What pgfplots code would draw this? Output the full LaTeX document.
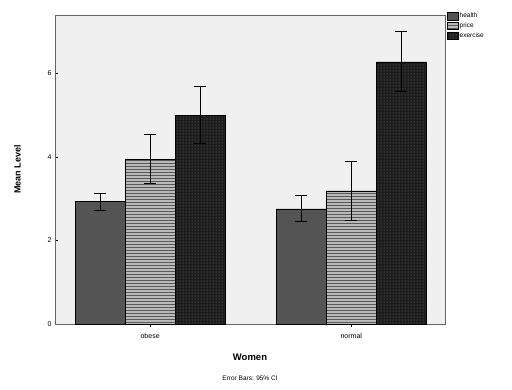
\documentclass[border=0pt]{standalone}
\usepackage{pgfplots}
\pgfplotsset{compat=1.18}
\usepackage{fontspec}
\setmainfont{Liberation Sans}
\usetikzlibrary{patterns}
\definecolor{plotbg}{RGB}{240,240,240}
\definecolor{barA}{RGB}{85,85,85}
\definecolor{barB}{RGB}{185,185,185}
\definecolor{barC}{RGB}{28,28,28}
\begin{document}
\begin{tikzpicture}
\path[use as bounding box] (-55pt,-65pt) rectangle (457pt,324pt);
\begin{axis}[
  at={(0pt,0pt)}, anchor=south west,
  scale only axis, width=390pt, height=309pt,
  ybar=0pt, bar width=0.249,
  xmin=-0.473, xmax=1.466,
  ymin=0, ymax=7.4,
  xtick={0,1}, xticklabels={obese,normal},
  ytick={0,2,4,6},
  axis background/.style={fill=plotbg},
  axis line style={gray!80!black},
  tick style={black},
  ytick pos=left, xtick pos=bottom,
  major tick length=3pt,
  tick label style={font=\fontsize{7}{8}\selectfont},
  xticklabel style={yshift=-3pt},
  /pgf/number format/assume math mode=true,
  ylabel={\textbf{Mean Level}},
  ylabel style={font=\fontsize{9}{10}\selectfont, yshift=20pt},
  xlabel={\textbf{Women}},
  xlabel style={font=\fontsize{9.5}{10}\selectfont, yshift=-8pt},
  legend style={at={(1.004,1.012)}, anchor=north west, draw=none, fill=none,
    font=\fontsize{6.5}{7}\selectfont, row sep=1.5pt, inner sep=0.5pt,
    nodes={inner sep=1pt}},
  legend cell align=left,
  legend image code/.code={\draw[#1] (0pt,-3.5pt) rectangle (11pt,4pt);},
  error bars/y dir=both, error bars/y explicit,
  error bars/error bar style={black, line width=0.9pt},
  error bars/error mark options={rotate=90, mark size=6pt, black, line width=0.9pt},
  clip=false,
]
\addplot[draw=black, fill=barA, postaction={pattern=dots, pattern color=black!70}]
  coordinates {(0,2.93) +- (0,0.20) (1,2.76) +- (0,0.31)};
\addplot[draw=black, fill=barB, postaction={pattern=horizontal lines, pattern color=black!65}]
  coordinates {(0,3.95) +- (0,0.58) (1,3.19) +- (0,0.70)};
\addplot[draw=black, fill=barC, postaction={pattern=dots, pattern color=black!50}]
  coordinates {(0,5.00) +- (0,0.68) (1,6.28) +- (0,0.72)};
\legend{health,price,exercise}
\end{axis}
\node[font=\fontsize{6.5}{7}\selectfont] at (195pt,-54pt) {Error Bars: 95\% CI};
\end{tikzpicture}
\end{document}
